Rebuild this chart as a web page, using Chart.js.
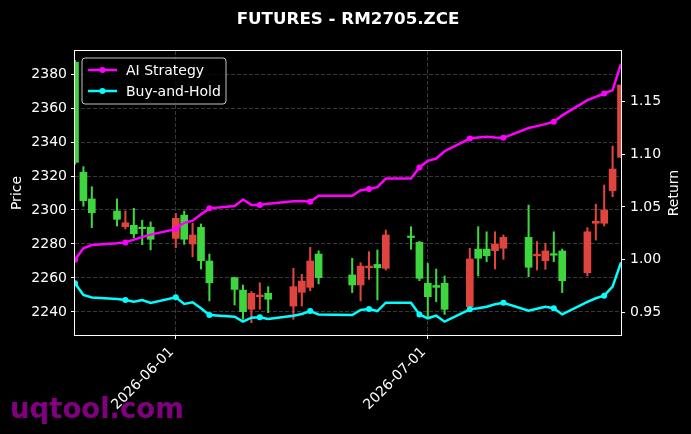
<!DOCTYPE html>
<html><head><meta charset="utf-8">
<script src="https://cdn.jsdelivr.net/npm/chart.js@4.4.1/dist/chart.umd.min.js"></script>
<style>html,body{margin:0;padding:0;background:#000;}canvas{display:block;}</style>
</head><body>
<canvas id="c" width="691" height="434"></canvas>
<script>
// ---------------- data ----------------
const TITLE = 'FUTURES - RM2705.ZCE';
const DATES = ['2026-05-20','2026-05-21','2026-05-22','2026-05-25','2026-05-26','2026-05-27','2026-05-28','2026-05-29',
 '2026-06-01','2026-06-02','2026-06-03','2026-06-04','2026-06-05','2026-06-08','2026-06-09','2026-06-10','2026-06-11','2026-06-12',
 '2026-06-15','2026-06-16','2026-06-17','2026-06-18','2026-06-22','2026-06-23','2026-06-24','2026-06-25','2026-06-26','2026-06-29','2026-06-30',
 '2026-07-01','2026-07-02','2026-07-03','2026-07-06','2026-07-07','2026-07-08','2026-07-09','2026-07-10','2026-07-13','2026-07-14',
 '2026-07-15','2026-07-16','2026-07-17','2026-07-20','2026-07-21','2026-07-22','2026-07-23','2026-07-24'];
const OPEN  = [2387,2322.2,2306.5,2299.4,2290.2,2291,2289.8,2289.8,2283.3,2296.9,2280,2289.8,2270,2260.2,2252.9,2241.6,2249,2251,
 2243.5,2251.6,2254.5,2274.1,2261.8,2255.9,2266,2268,2265.7,2284.7,2281,2256.9,2255.6,2256.9,2243.1,2277,2277,2276.1,2277.5,2283.9,2273,
 2270.2,2274.2,2275.9,2263.1,2292.2,2292.2,2311.4,2331];
const HIGH  = [2388,2325.5,2313.7,2306.5,2299.4,2301,2294,2293,2298,2299.4,2292.2,2291.8,2274.1,2260.5,2255.9,2252,2257.2,2254.9,
 2265.7,2262.2,2278,2276,2271.6,2269,2275.5,2276.5,2288.2,2290.2,2281.5,2268.6,2265.3,2261.2,2277.5,2290.2,2287.2,2287.2,2285.3,2302.9,2281.4,
 2280.4,2287.2,2277,2289.6,2303.4,2314.7,2337.6,2373.5];
const LOW   = [2327,2302.2,2289.6,2290.6,2288.8,2283.7,2279.6,2276.5,2277.8,2279.8,2272.5,2265.3,2246.5,2244.1,2235.7,2233.7,2241.6,2239.6,
 2235.7,2243.5,2252.5,2256.5,2251.4,2246.6,2259.2,2247.1,2264.7,2276.9,2258.4,2237.2,2246.1,2238.6,2243,2261.2,2269.6,2265.3,2271,2260.8,2264.7,
 2265.1,2269.6,2251.4,2261.2,2282.3,2290.6,2307.8,2331];
const CLOSE = [2328,2305.5,2298.4,2294.5,2292.5,2286,2289,2282.8,2295.1,2282.8,2285.3,2270.2,2257.2,2253.3,2240.2,2251,2250,2247.5,
 2254.9,2258.2,2270,2260.2,2255.9,2267,2267,2266,2285.3,2283.8,2259.8,2249,2254.5,2241.6,2271.2,2271.6,2273.1,2279.8,2283.9,2266.3,2274,
 2275.9,2273.4,2258.4,2287.2,2293.4,2300,2324.1,2373.5];
const AI_STRATEGY = [1.000,1.0108,1.0139,1.0155,1.0164,1.019,1.0214,1.0238,1.029,1.035,1.037,1.043,1.0487,1.051,1.0572,1.052,1.052,1.053,
 1.0555,1.0558,1.055,1.0607,1.0607,1.066,1.067,1.0688,1.077,1.077,1.0876,1.0938,1.096,1.103,1.115,1.116,1.1166,1.116,1.1157,1.125,1.1268,
 1.1287,1.131,1.137,1.1515,1.1546,1.1578,1.161,1.186];
const BUY_AND_HOLD = [0.9775,0.9664,0.964,0.9626,0.9617,0.960,0.9617,0.9588,0.9642,0.9579,0.9595,0.9538,0.9474,0.9458,0.9411,0.9449,0.9453,0.9436,
 0.9468,0.9484,0.9512,0.948,0.9474,0.9522,0.9531,0.9512,0.9591,0.9591,0.948,0.9443,0.9468,0.9411,0.9528,0.9538,0.9553,0.9576,0.9591,0.9515,0.9534,
 0.9553,0.9538,0.948,0.960,0.9633,0.9658,0.9743,0.9974];
const X_TICK_LABELS = ['2026-06-01','2026-07-01'];
const X_START = '2026-05-20', X_END = '2026-07-24';
const SERIES_NAMES = ['AI Strategy','Buy-and-Hold'];

// ---------------- helpers ----------------
const DAY = 86400000;
const T0 = Date.parse(X_START + 'T00:00:00Z');
const dayIndex = s => Math.round((Date.parse(s + 'T00:00:00Z') - T0) / DAY);
const XS = DATES.map(dayIndex);
const UP = '#e0443f', DOWN = '#3ed63e';
const candleColor = XS.map((_, i) => CLOSE[i] >= OPEN[i] ? UP : DOWN);
const FONT = '"DejaVu Sans", "Liberation Sans", sans-serif';
const COLORS = ['#ff00ff', '#00ffff'];

const deco = {
  id: 'deco',
  beforeDraw(chart) {
    const c = chart.ctx;
    c.save(); c.fillStyle = '#000'; c.fillRect(0, 0, chart.width, chart.height); c.restore();
  },
  afterDatasetsDraw(chart) {
    const c = chart.ctx, a = chart.chartArea;
    c.save();
    // legend
    const lx = 82, ly = 58, lw = 144, lh = 46, r = 3;
    c.beginPath();
    c.moveTo(lx + r, ly); c.lineTo(lx + lw - r, ly); c.arcTo(lx + lw, ly, lx + lw, ly + r, r);
    c.lineTo(lx + lw, ly + lh - r); c.arcTo(lx + lw, ly + lh, lx + lw - r, ly + lh, r);
    c.lineTo(lx + r, ly + lh); c.arcTo(lx, ly + lh, lx, ly + lh - r, r);
    c.lineTo(lx, ly + r); c.arcTo(lx, ly, lx + r, ly, r); c.closePath();
    c.fillStyle = 'rgba(0,0,0,0.8)'; c.fill();
    c.strokeStyle = 'rgba(230,230,230,0.85)'; c.lineWidth = 1; c.stroke();
    SERIES_NAMES.forEach((name, i) => {
      const y = 70 + i * 21;
      c.strokeStyle = COLORS[i]; c.lineWidth = 2.5;
      c.beginPath(); c.moveTo(88, y); c.lineTo(117, y); c.stroke();
      c.fillStyle = COLORS[i]; c.beginPath(); c.arc(102.5, y, 3, 0, Math.PI * 2); c.fill();
      c.fillStyle = '#fff'; c.font = '14px ' + FONT; c.textBaseline = 'middle'; c.textAlign = 'left';
      c.fillText(name, 126, y + 1);
    });
    // frame
    c.strokeStyle = '#fff'; c.lineWidth = 1;
    c.strokeRect(a.left - 0.5, a.top - 0.5, a.right - a.left + 1, a.bottom - a.top + 1);
    c.restore();
  },
  afterDraw(chart) {
    const c = chart.ctx, a = chart.chartArea;
    c.save();
    c.fillStyle = '#fff';
    c.font = 'bold 16.7px ' + FONT; c.textAlign = 'center'; c.textBaseline = 'alphabetic';
    c.fillText(TITLE, (a.left + a.right) / 2, 24);
    c.font = '14px ' + FONT; c.textBaseline = 'middle';
    const cy = (a.top + a.bottom) / 2;
    c.save(); c.translate(17, cy); c.rotate(-Math.PI / 2); c.fillText('Price', 0, 0); c.restore();
    c.save(); c.translate(674, cy); c.rotate(-Math.PI / 2); c.fillText('Return', 0, 0); c.restore();
    c.fillStyle = '#800080'; c.font = 'bold 27.5px ' + FONT; c.textAlign = 'left'; c.textBaseline = 'alphabetic';
    c.fillText('uqtool.com', 10, 418);
    c.restore();
  }
};

const gridCommon = { color: 'rgba(255,255,255,0.28)', lineWidth: 0.8, tickColor: '#fff', tickLength: 4, tickWidth: 1, offset: false };
const tickFont = { family: FONT, size: 14 };

new Chart(document.getElementById('c'), {
  data: {
    datasets: [
      { type: 'line', label: SERIES_NAMES[0], yAxisID: 'y1', order: 0,
        data: XS.map((x, i) => ({ x, y: AI_STRATEGY[i] })),
        borderColor: COLORS[0], backgroundColor: COLORS[0], borderWidth: 2.5, tension: 0,
        pointRadius: ctx => ctx.dataIndex % 4 === 0 ? 3 : 0, pointBorderWidth: 0, pointBackgroundColor: COLORS[0] },
      { type: 'line', label: SERIES_NAMES[1], yAxisID: 'y1', order: 1,
        data: XS.map((x, i) => ({ x, y: BUY_AND_HOLD[i] })),
        borderColor: COLORS[1], backgroundColor: COLORS[1], borderWidth: 2.5, tension: 0,
        pointRadius: ctx => ctx.dataIndex % 4 === 0 ? 3 : 0, pointBorderWidth: 0, pointBackgroundColor: COLORS[1] },
      { type: 'bar', label: 'body', yAxisID: 'y', order: 2, grouped: false,
        data: XS.map((x, i) => ({ x, y: [OPEN[i], CLOSE[i]] })),
        backgroundColor: candleColor, borderWidth: 0, barThickness: 7, minBarLength: 1.5 },
      { type: 'bar', label: 'wick', yAxisID: 'y', order: 3, grouped: false,
        data: XS.map((x, i) => ({ x, y: [LOW[i], HIGH[i]] })),
        backgroundColor: candleColor, borderWidth: 0, barThickness: 1.4 }
    ]
  },
  options: {
    responsive: false, animation: false, devicePixelRatio: 1,
    layout: { padding: { top: 51, left: 0, right: 0, bottom: 0 } },
    plugins: { legend: { display: false }, tooltip: { enabled: false }, title: { display: false } },
    scales: {
      x: {
        type: 'linear', min: 0, max: dayIndex(X_END), offset: false,
        afterBuildTicks: s => { s.ticks = X_TICK_LABELS.map(l => ({ value: dayIndex(l) })); },
        afterFit: s => { s.height = 99; },
        ticks: { color: '#fff', font: tickFont, autoSkip: false, minRotation: 45, maxRotation: 45, padding: 5, labelOffset: -4,
          callback: v => X_TICK_LABELS.find(l => dayIndex(l) === v) || '' },
        grid: gridCommon, border: { display: false, dash: [4, 2] }
      },
      y: {
        type: 'linear', position: 'left', min: 2226.47, max: 2393.53,
        afterFit: s => { s.width = 75; },
        ticks: { color: '#fff', font: tickFont, stepSize: 20, includeBounds: false, padding: 4, callback: v => String(Math.round(v)) },
        grid: gridCommon, border: { display: false, dash: [4, 2] }
      },
      y1: {
        type: 'linear', position: 'right', min: 0.92844, max: 1.19815,
        afterFit: s => { s.width = 70; },
        ticks: { color: '#fff', font: tickFont, stepSize: 0.05, includeBounds: false, padding: 5, callback: v => v.toFixed(2) },
        grid: Object.assign({}, gridCommon, { drawOnChartArea: false }), border: { display: false }
      }
    }
  },
  plugins: [deco]
});
</script>
</body></html>
